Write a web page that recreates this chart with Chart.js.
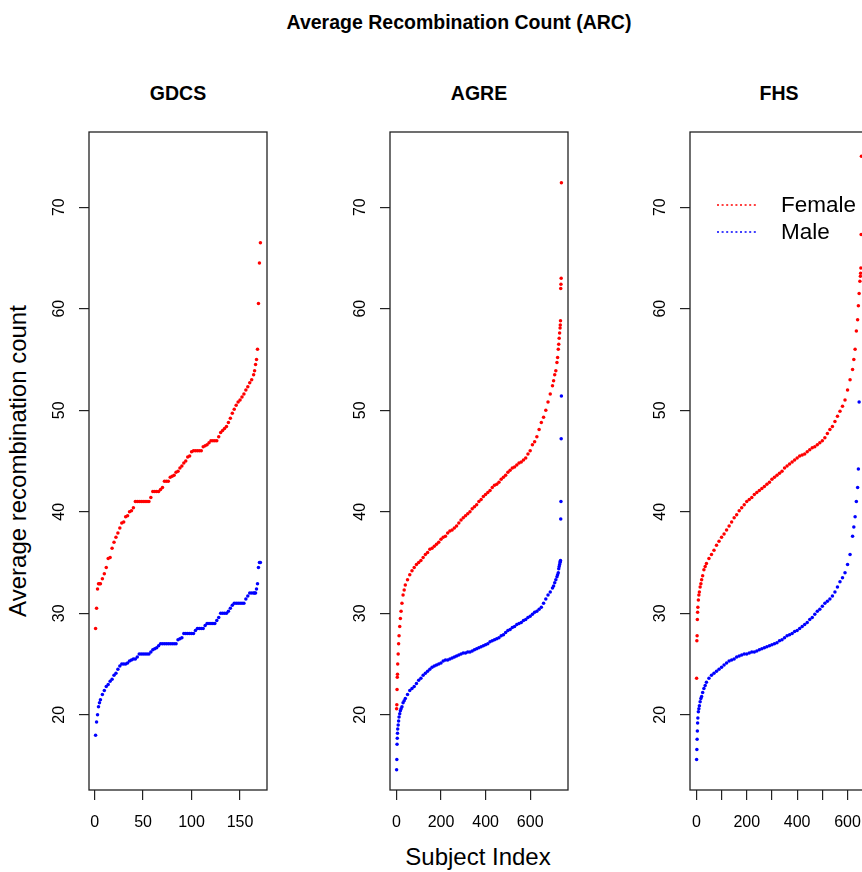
<!DOCTYPE html>
<html>
<head>
<meta charset="utf-8">
<title>Average Recombination Count (ARC)</title>
<script src="https://cdn.jsdelivr.net/npm/chart.js@4.4.0/dist/chart.umd.min.js"></script>
<style>
  body {
    margin: 0;
    width: 862px;
    height: 872px;
    overflow: hidden;
    position: relative;
    background: #fff;
    font-family: "Liberation Sans", Arial, sans-serif;
  }
  .label {
    position: absolute;
    color: #000;
    white-space: nowrap;
    transform: translate(-50%, -50%);
  }
  .bold { font-weight: bold; font-size: 19.5px; }
  .axis-title { font-size: 24px; }
  .panel { position: absolute; }
</style>
</head>
<body>
<div class="label bold" style="left:459px; top:22px">Average Recombination Count (ARC)</div>
<div class="label bold" style="left:178px; top:93px">GDCS</div>
<div class="label bold" style="left:479px; top:93px">AGRE</div>
<div class="label bold" style="left:779px; top:93px">FHS</div>
<div class="label axis-title" style="left:18px; top:461px; transform:translate(-50%,-50%) rotate(-90deg)">Average recombination count</div>
<div class="label axis-title" style="left:478px; top:857px">Subject Index</div>

<div class="panel" id="gdcsPanel"><canvas id="gdcsChart"></canvas></div>
<div class="panel" id="agrePanel"><canvas id="agreChart"></canvas></div>
<div class="panel" id="fhsPanel"><canvas id="fhsChart"></canvas></div>

<script>
// Shared y axis
const yTicks = [20, 30, 40, 50, 60, 70];

// GDCS (subjects sorted by ARC)
const gdcsXTicks = [0, 50, 100, 150];
const gdcsIndex = [
  1, 2, 3, 4, 5, 6,
  8, 10, 12, 14, 16, 18, 20, 22, 24, 26,
  28, 30, 32, 34, 36, 38, 40, 42, 44, 46,
  48, 50, 52, 54, 56, 58, 60, 62, 64, 66,
  68, 70, 72, 74, 76, 78, 80, 82, 84, 86,
  88, 90, 92, 94, 96, 98, 100, 102, 104, 106,
  108, 110, 112, 114, 116, 118, 120, 122, 124, 126,
  128, 130, 132, 134, 136, 138, 140, 142, 144, 146,
  148, 150, 152, 154, 156, 158, 160, 162, 164,
  165, 166, 167, 168, 169, 170, 171,
];
const gdcsFemale = [
  28.5, 30.5, 32.4, 32.9, 32.9, 32.9,
  33.4, 33.9, 34.5, 35.4, 35.5, 36.4, 37.0, 37.5, 37.9, 38.4,
  38.9, 39.0, 39.5, 39.6, 40.0, 40.1, 40.4, 41.0, 41.0, 41.0,
  41.0, 41.0, 41.0, 41.0, 41.0, 41.4, 42.0, 42.0, 42.0, 42.0,
  42.2, 42.4, 43.0, 43.0, 43.0, 43.4, 43.5, 43.6, 43.9, 44.0,
  44.3, 44.5, 44.8, 45.0, 45.4, 45.5, 45.9, 46.0, 46.0, 46.0,
  46.0, 46.0, 46.4, 46.5, 46.6, 46.8, 47.0, 47.0, 47.0, 47.0,
  47.4, 47.8, 48.0, 48.2, 48.4, 48.8, 49.2, 49.7, 50.1, 50.5,
  50.8, 51.0, 51.3, 51.6, 52.0, 52.3, 52.7, 53.0, 53.5,
  53.9, 54.5, 55.0, 56.0, 60.5, 64.5, 66.5,
];
const gdcsMale = [
  18.0, 19.3, 20.0, 20.8, 21.2, 21.5,
  22.0, 22.4, 22.8, 23.0, 23.3, 23.5, 23.9, 24.1, 24.5, 24.8,
  25.0, 25.0, 25.0, 25.1, 25.3, 25.4, 25.5, 25.5, 25.7, 26.0,
  26.0, 26.0, 26.0, 26.0, 26.0, 26.2, 26.4, 26.5, 26.6, 26.8,
  27.0, 27.0, 27.0, 27.0, 27.0, 27.0, 27.0, 27.0, 27.0, 27.4,
  27.5, 27.6, 28.0, 28.0, 28.0, 28.0, 28.0, 28.0, 28.3, 28.5,
  28.5, 28.5, 28.5, 28.8, 29.0, 29.0, 29.0, 29.0, 29.0, 29.3,
  29.6, 30.0, 30.0, 30.0, 30.0, 30.2, 30.5, 30.8, 31.0, 31.0,
  31.0, 31.0, 31.0, 31.0, 31.4, 31.7, 32.0, 32.0, 32.0,
  32.0, 32.0, 32.4, 32.9, 34.5, 35.0, 35.0,
];

// AGRE
const agreXTicks = [0, 200, 400, 600];
const agreIndex = [
  1, 2, 3, 4, 5, 6, 8, 10, 12, 15, 18, 21, 25, 30, 35, 40,
  50, 60, 70, 80, 90, 100, 110, 120, 130, 140,
  150, 160, 170, 180, 190, 200, 210, 220, 230, 240,
  250, 260, 270, 280, 290, 300, 310, 320, 330, 340,
  350, 360, 370, 380, 390, 400, 410, 420, 430, 440,
  450, 460, 470, 480, 490, 500, 510, 520, 530, 540,
  550, 560, 570, 580, 590, 600, 610, 620, 630, 640,
  650, 660, 670, 680, 690, 700,
  705, 710, 715, 720, 723, 726, 728, 730, 732, 734, 735, 736, 737, 738, 739, 740,
];
const agreFemale = [
  20.6, 21.0, 22.5, 23.7, 24.0, 25.0, 26.0, 27.0, 27.8, 28.7, 29.5, 30.2, 31.0, 31.8, 32.3, 32.8,
  33.3, 33.8, 34.2, 34.5, 34.8, 35.0, 35.2, 35.5, 35.8, 36.0,
  36.3, 36.4, 36.6, 36.8, 37.0, 37.3, 37.5, 37.6, 37.9, 38.1,
  38.2, 38.4, 38.6, 38.9, 39.2, 39.4, 39.6, 39.8, 40.0, 40.3,
  40.5, 40.7, 41.0, 41.2, 41.5, 41.7, 41.9, 42.1, 42.4, 42.6,
  42.7, 42.9, 43.2, 43.4, 43.6, 43.9, 44.1, 44.3, 44.4, 44.6,
  44.8, 44.9, 45.1, 45.3, 45.7, 46.0, 46.6, 46.9, 47.4, 48.1,
  48.8, 49.3, 50.0, 50.8, 51.6, 52.4,
  52.9, 53.5, 53.9, 54.7, 55.2, 56.0, 56.5, 57.1, 57.6, 58.1, 58.4, 58.8, 62.0, 62.4, 63.0, 72.4,
];
const agreMale = [
  14.6, 15.6, 17.1, 17.7, 18.2, 18.6, 19.0, 19.4, 19.8, 20.1, 20.4, 20.6, 20.8, 21.2, 21.4, 21.6,
  22.0, 22.4, 22.6, 22.8, 23.1, 23.4, 23.6, 23.9, 24.1, 24.3,
  24.5, 24.7, 24.8, 24.9, 25.0, 25.1, 25.3, 25.4, 25.4, 25.5,
  25.6, 25.7, 25.8, 25.9, 26.0, 26.1, 26.1, 26.2, 26.2, 26.3,
  26.4, 26.5, 26.6, 26.7, 26.8, 26.9, 27.0, 27.2, 27.3, 27.4,
  27.5, 27.6, 27.8, 27.9, 28.1, 28.3, 28.4, 28.6, 28.7, 28.9,
  29.0, 29.1, 29.3, 29.4, 29.6, 29.7, 29.9, 30.1, 30.2, 30.4,
  30.6, 31.0, 31.4, 31.8, 32.1, 32.5,
  32.7, 33.0, 33.3, 33.6, 33.8, 34.0, 34.4, 34.6, 34.8, 35.0, 35.1, 35.2, 39.3, 41.0, 47.2, 51.4,
];

// FHS (labels only on every second tick, as in the original)
const fhsXTicks = [0, 100, 200, 300, 400, 500, 600];
const fhsXLabels = [0, 200, 400, 600];
const fhsIndex = [
  1, 2, 3, 4, 5, 6, 8, 10, 12, 15, 18, 21, 25, 30, 35, 40,
  50, 60, 70, 80, 90, 100, 110, 120, 130, 140,
  150, 160, 170, 180, 190, 200, 210, 220, 230, 240,
  250, 260, 270, 280, 290, 300, 310, 320, 330, 340,
  350, 360, 370, 380, 390, 400, 410, 420, 430, 440,
  450, 460, 470, 480, 490, 500, 510, 520, 530, 540,
  550, 560, 570, 580, 590, 600, 610, 620,
  625, 630, 635, 640, 643, 646, 649, 651, 652, 653, 654, 655,
];
const fhsFemale = [
  23.6, 27.3, 27.8, 29.4, 30.1, 30.6, 31.3, 31.8, 32.1, 32.6, 32.9, 33.3, 33.7, 34.3, 34.6, 34.9,
  35.4, 35.8, 36.2, 36.7, 37.1, 37.5, 37.8, 38.2, 38.6, 39.0,
  39.4, 39.7, 40.1, 40.4, 40.7, 41.0, 41.2, 41.4, 41.7, 41.9,
  42.1, 42.3, 42.5, 42.7, 42.9, 43.2, 43.4, 43.6, 43.8, 44.0,
  44.3, 44.5, 44.7, 44.9, 45.1, 45.3, 45.5, 45.6, 45.7, 45.9,
  46.1, 46.3, 46.4, 46.6, 46.8, 47.0, 47.3, 47.7, 48.1, 48.4,
  48.9, 49.4, 49.9, 50.4, 51.0, 52.0, 53.0, 54.0,
  55.0, 56.0, 57.8, 58.9, 60.3, 61.5, 62.7, 63.2, 63.5, 64.0, 67.3, 75.0,
];
const fhsMale = [
  15.6, 16.6, 17.6, 18.4, 19.2, 19.7, 20.3, 20.6, 20.9, 21.3, 21.6, 21.8, 22.2, 22.6, 22.9, 23.2,
  23.6, 23.9, 24.1, 24.3, 24.5, 24.7, 24.9, 25.1, 25.3, 25.4,
  25.5, 25.7, 25.8, 25.9, 26.0, 26.0, 26.1, 26.2, 26.2, 26.3,
  26.4, 26.5, 26.6, 26.7, 26.8, 26.9, 27.0, 27.1, 27.3, 27.4,
  27.6, 27.8, 27.9, 28.0, 28.2, 28.3, 28.5, 28.7, 28.9, 29.1,
  29.4, 29.6, 29.9, 30.2, 30.4, 30.7, 31.0, 31.2, 31.4, 31.7,
  32.1, 32.6, 33.1, 33.5, 34.0, 34.8, 35.8, 37.6,
  38.5, 39.5, 41.0, 42.4, 44.2, 50.8,
];

// Layout (pixels of the 862x872 page)
const BOX_TOP = 132;
const BOX_HEIGHT = 658;
const BOX_WIDTH = 178;
const Y_AXIS_WIDTH = 60;
const X_AXIS_HEIGHT = 50;
const PAD_TOP = 30;
const PAD_RIGHT = 10;
const FONT = "'Liberation Sans', Arial, sans-serif";
const AXIS_COLOR = "#222";

Chart.defaults.font.family = FONT;
Chart.defaults.color = "#000";

// R-style full box around the plotting region
const boxPlugin = {
  id: "plotBox",
  afterDraw(chart) {
    const { ctx, chartArea: a } = chart;
    ctx.save();
    ctx.strokeStyle = AXIS_COLOR;
    ctx.lineWidth = 1.3;
    ctx.strokeRect(a.left, a.top, a.right - a.left, a.bottom - a.top);
    ctx.restore();
  },
};

// Dotted-line legend in the top of the FHS panel (no frame)
const legendPlugin = {
  id: "sexLegend",
  afterDraw(chart) {
    const { ctx, chartArea: a } = chart;
    const rows = [
      { text: "Female", color: "red", dy: 73 },
      { text: "Male", color: "blue", dy: 100 },
    ];
    ctx.save();
    ctx.lineWidth = 1.5;
    ctx.setLineDash([2, 2.6]);
    ctx.font = "22.5px " + FONT;
    ctx.textBaseline = "middle";
    for (const row of rows) {
      const y = a.top + row.dy;
      ctx.strokeStyle = row.color;
      ctx.beginPath();
      ctx.moveTo(a.left + 27, y);
      ctx.lineTo(a.left + 68, y);
      ctx.stroke();
      ctx.fillStyle = "#000";
      ctx.fillText(row.text, a.left + 91, y + 1);
    }
    ctx.restore();
  },
};

function toPoints(index, values) {
  return values.map((y, i) => ({ x: index[i], y }));
}

function axisGrid() {
  return {
    drawOnChartArea: false,
    drawTicks: true,
    tickLength: 10,
    tickColor: AXIS_COLOR,
    lineWidth: 1.2,
  };
}

function createPanel(panelId, canvasId, boxLeft, opts) {
  const panel = document.getElementById(panelId);
  panel.style.left = boxLeft - Y_AXIS_WIDTH + "px";
  panel.style.top = BOX_TOP - PAD_TOP + "px";
  panel.style.width = Y_AXIS_WIDTH + BOX_WIDTH + PAD_RIGHT + "px";
  panel.style.height = PAD_TOP + BOX_HEIGHT + X_AXIS_HEIGHT + "px";

  const labels = opts.xLabels || opts.xTicks;
  const plugins = [boxPlugin];
  if (opts.legend) plugins.push(legendPlugin);

  return new Chart(document.getElementById(canvasId), {
    type: "scatter",
    data: {
      datasets: [
        {
          label: "Female",
          data: toPoints(opts.index, opts.female),
          backgroundColor: "#ff0000",
          borderWidth: 0,
          pointRadius: 1.75,
        },
        {
          label: "Male",
          data: toPoints(opts.index, opts.male),
          backgroundColor: "#0000ff",
          borderWidth: 0,
          pointRadius: 1.75,
        },
      ],
    },
    options: {
      responsive: true,
      maintainAspectRatio: false,
      animation: false,
      events: [],
      layout: { padding: { top: PAD_TOP, right: PAD_RIGHT, bottom: 0, left: 0 } },
      plugins: { legend: { display: false }, tooltip: { enabled: false } },
      scales: {
        x: {
          type: "linear",
          min: opts.xMin,
          max: opts.xMax,
          afterBuildTicks: (scale) => {
            scale.ticks = opts.xTicks.map((v) => ({ value: v }));
          },
          afterFit: (scale) => {
            scale.height = X_AXIS_HEIGHT;
          },
          grid: axisGrid(),
          border: { display: false },
          ticks: {
            autoSkip: false,
            maxRotation: 0,
            padding: 13,
            font: { size: 16 },
            callback: (v) => (labels.includes(v) ? String(v) : ""),
          },
        },
        y: {
          type: "linear",
          min: 12.6,
          max: 77.4,
          afterBuildTicks: (scale) => {
            scale.ticks = yTicks.map((v) => ({ value: v }));
          },
          afterFit: (scale) => {
            scale.width = Y_AXIS_WIDTH;
          },
          grid: axisGrid(),
          border: { display: false },
          ticks: {
            minRotation: 90,
            maxRotation: 90,
            crossAlign: "center",
            padding: 11,
            font: { size: 16 },
            callback: (v) => String(v),
          },
        },
      },
    },
    plugins,
  });
}

createPanel("gdcsPanel", "gdcsChart", 89, {
  index: gdcsIndex, female: gdcsFemale, male: gdcsMale,
  xTicks: gdcsXTicks, xMin: -5.8, xMax: 177.8,
});
createPanel("agrePanel", "agreChart", 390, {
  index: agreIndex, female: agreFemale, male: agreMale,
  xTicks: agreXTicks, xMin: -28.6, xMax: 769.6,
});
createPanel("fhsPanel", "fhsChart", 690, {
  index: fhsIndex, female: fhsFemale, male: fhsMale,
  xTicks: fhsXTicks, xLabels: fhsXLabels, xMin: -25.2, xMax: 681.2,
  legend: true,
});
</script>
</body>
</html>
